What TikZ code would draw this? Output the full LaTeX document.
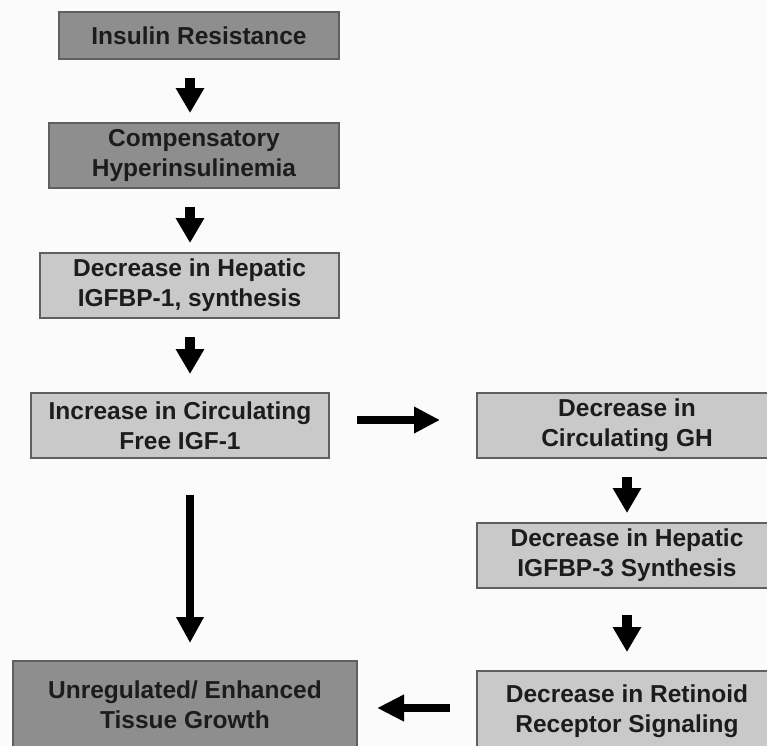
\documentclass[tikz,border=0pt]{standalone}
\usepackage{fontspec}
\setmainfont{Liberation Sans}
\usetikzlibrary{arrows.meta}
\definecolor{darkbox}{RGB}{142,142,142}
\definecolor{lightbox}{RGB}{201,201,201}
\definecolor{edgecol}{RGB}{95,95,95}
\definecolor{ink}{RGB}{28,28,28}
\definecolor{bgcol}{RGB}{251,251,251}
\tikzset{
  box/.style={draw=edgecol, line width=1.2pt, inner sep=0pt, outer sep=0pt,
    align=center, text=ink, font=\fontsize{24.5}{30}\selectfont\bfseries},
  darkb/.style={box, fill=darkbox},
  lightb/.style={box, fill=lightbox},
  blk/.style={draw=black, line width=10pt,
    -{Triangle[width=27pt,length=25pt]}},
  blkthin/.style={draw=black, line width=8pt,
    -{Triangle[width=26pt,length=26pt]}}
}
\begin{document}
\begin{tikzpicture}[x=1pt,y=-1pt]
\useasboundingbox (0,0) rectangle (767,745);
\clip (0,0) rectangle (767,745);
\fill[bgcol] (0,0) rectangle (767,745);

\coordinate (colL) at (190,0);
\coordinate (colR) at (627,0);
\coordinate (rowA) at (0,420);
\coordinate (rowB) at (0,708);

\node[darkb, minimum width=280pt, minimum height=47pt] (b1) at (199,35.5) {Insulin Resistance};
\node[darkb, minimum width=290pt, minimum height=65pt] (b2) at (194,155.5) {Compensatory\\Hyperinsulinemia};
\node[lightb, minimum width=299pt, minimum height=65pt] (b3) at (189.5,285.5) {Decrease in Hepatic\\IGFBP-1, synthesis};
\node[lightb, minimum width=298pt, minimum height=65pt] (b4) at (180,425.5) {Increase in Circulating\\Free IGF-1};
\node[lightb, minimum width=300pt, minimum height=65pt] (b5) at (627,425.5) {Decrease in\\Circulating GH};
\node[lightb, minimum width=300pt, minimum height=65pt] (b6) at (627,555.5) {Decrease in Hepatic\\IGFBP-3 Synthesis};
\node[lightb, minimum width=300pt, minimum height=80pt] (b8) at (627,711) {Decrease in Retinoid\\Receptor Signaling};
\node[darkb, minimum width=344pt, minimum height=88pt] (b7) at (185,705) {Unregulated/ Enhanced\\Tissue Growth};

\draw[blk, shorten <=19pt, shorten >=10pt] (b1.south -| colL) -- (b2.north -| colL);
\draw[blk, shorten <=19pt, shorten >=10pt] (b2.south -| colL) -- (b3.north -| colL);
\draw[blk, shorten <=19pt, shorten >=19pt] (b3.south -| colL) -- (b4.north -| colL);
\draw[blkthin, shorten <=37pt, shorten >=18pt] (b4.south -| colL) -- (b7.north -| colL);
\draw[blkthin, -{Triangle[width=25pt,length=26pt]}, shorten <=28pt, shorten >=37pt] (b4.east |- rowA) -- (b5.west |- rowA);
\draw[blk, shorten <=19pt, shorten >=10pt] (b5.south -| colR) -- (b6.north -| colR);
\draw[blk, shorten <=27pt, shorten >=19pt] (b6.south -| colR) -- (b8.north -| colR);
\draw[blkthin, -{Triangle[width=25pt,length=27pt]}, shorten <=27pt, shorten >=20pt] (b8.west |- rowB) -- (b7.east |- rowB);
\end{tikzpicture}
\end{document}
